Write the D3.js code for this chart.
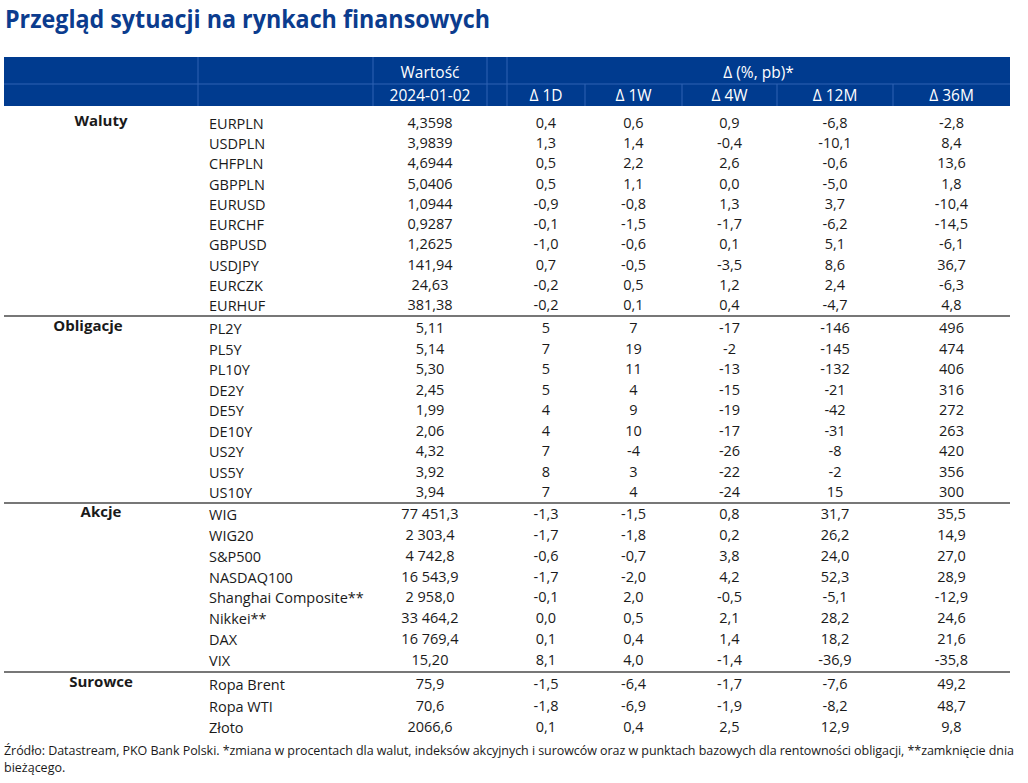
<!DOCTYPE html>
<html>
<head>
<meta charset="utf-8">
<script src="https://cdn.jsdelivr.net/npm/d3@7"></script>
<style>
  html, body { margin: 0; padding: 0; background: #ffffff; }
  svg { display: block; }
  text { font-family: "Open Sans", "Noto Sans", sans-serif; }
</style>
</head>
<body>
<svg id="chart" width="1028" height="783"></svg>
<script>
// ---------------- DATA ----------------
const title = "Przegląd sytuacji na rynkach finansowych";
const valueHeader = "Wartość";
const dateLabel = "2024-01-02";
const deltaHeader = "Δ (%, pb)*";
const deltaColumns = ["Δ 1D", "Δ 1W", "Δ 4W", "Δ 12M", "Δ 36M"];
const sections = ["Waluty", "Obligacje", "Akcje", "Surowce"];

const walutyNames = ["EURPLN", "USDPLN", "CHFPLN", "GBPPLN", "EURUSD", "EURCHF", "GBPUSD", "USDJPY", "EURCZK", "EURHUF"];
const walutyValues = ["4,3598", "3,9839", "4,6944", "5,0406", "1,0944", "0,9287", "1,2625", "141,94", "24,63", "381,38"];
const walutyDeltas = [
  ["0,4", "0,6", "0,9", "-6,8", "-2,8"],
  ["1,3", "1,4", "-0,4", "-10,1", "8,4"],
  ["0,5", "2,2", "2,6", "-0,6", "13,6"],
  ["0,5", "1,1", "0,0", "-5,0", "1,8"],
  ["-0,9", "-0,8", "1,3", "3,7", "-10,4"],
  ["-0,1", "-1,5", "-1,7", "-6,2", "-14,5"],
  ["-1,0", "-0,6", "0,1", "5,1", "-6,1"],
  ["0,7", "-0,5", "-3,5", "8,6", "36,7"],
  ["-0,2", "0,5", "1,2", "2,4", "-6,3"],
  ["-0,2", "0,1", "0,4", "-4,7", "4,8"]
];

const obligacjeNames = ["PL2Y", "PL5Y", "PL10Y", "DE2Y", "DE5Y", "DE10Y", "US2Y", "US5Y", "US10Y"];
const obligacjeValues = ["5,11", "5,14", "5,30", "2,45", "1,99", "2,06", "4,32", "3,92", "3,94"];
const obligacjeDeltas = [
  ["5", "7", "-17", "-146", "496"],
  ["7", "19", "-2", "-145", "474"],
  ["5", "11", "-13", "-132", "406"],
  ["5", "4", "-15", "-21", "316"],
  ["4", "9", "-19", "-42", "272"],
  ["4", "10", "-17", "-31", "263"],
  ["7", "-4", "-26", "-8", "420"],
  ["8", "3", "-22", "-2", "356"],
  ["7", "4", "-24", "15", "300"]
];

const akcjeNames = ["WIG", "WIG20", "S&P500", "NASDAQ100", "Shanghai Composite**", "Nikkei**", "DAX", "VIX"];
const akcjeValues = ["77 451,3", "2 303,4", "4 742,8", "16 543,9", "2 958,0", "33 464,2", "16 769,4", "15,20"];
const akcjeDeltas = [
  ["-1,3", "-1,5", "0,8", "31,7", "35,5"],
  ["-1,7", "-1,8", "0,2", "26,2", "14,9"],
  ["-0,6", "-0,7", "3,8", "24,0", "27,0"],
  ["-1,7", "-2,0", "4,2", "52,3", "28,9"],
  ["-0,1", "2,0", "-0,5", "-5,1", "-12,9"],
  ["0,0", "0,5", "2,1", "28,2", "24,6"],
  ["0,1", "0,4", "1,4", "18,2", "21,6"],
  ["8,1", "4,0", "-1,4", "-36,9", "-35,8"]
];

const surowceNames = ["Ropa Brent", "Ropa WTI", "Złoto"];
const surowceValues = ["75,9", "70,6", "2066,6"];
const surowceDeltas = [
  ["-1,5", "-6,4", "-1,7", "-7,6", "49,2"],
  ["-1,8", "-6,9", "-1,9", "-8,2", "48,7"],
  ["0,1", "0,4", "2,5", "12,9", "9,8"]
];

const footnoteLine1 = "Źródło: Datastream, PKO Bank Polski. *zmiana w procentach dla walut, indeksów akcyjnych i surowców oraz w punktach bazowych dla rentowności obligacji, **zamknięcie dnia";
const footnoteLine2 = "bieżącego.";

// ---------------- LAYOUT ----------------
const svg = d3.select("#chart");
const blue = "#0b3c8e";
const headerBlue = "#003b8f";
const dividerBlue = "#2f62b3";
const left = 4, right = 1010;

// column boundaries
const colEdges = [left, 198, 373, 487, 507, 585, 682, 777, 893, right];
const deltaCenter = d3.scaleOrdinal()
  .domain(deltaColumns)
  .range(deltaColumns.map((d, i) => (colEdges[4 + i] + colEdges[5 + i]) / 2));
const valueX = (colEdges[2] + colEdges[3]) / 2;
const nameX = colEdges[1] + 11;
const sectionX = d3.scaleOrdinal().domain(sections).range([101, 88, 101, 101]);

// Title
svg.append("text")
  .attr("x", 5).attr("y", 28)
  .attr("fill", blue)
  .attr("font-size", 25).attr("font-weight", 700)
  .attr("textLength", 485).attr("lengthAdjust", "spacingAndGlyphs")
  .text(title);

// Header band
const hTop = 57, hMid = 84, hBot = 106;
svg.append("rect").attr("x", left).attr("y", hTop).attr("width", right - left).attr("height", hBot - hTop).attr("fill", headerBlue);
svg.append("line").attr("x1", left).attr("x2", right).attr("y1", hMid).attr("y2", hMid).attr("stroke", dividerBlue).attr("stroke-width", 1);
[198, 373, 487, 507].forEach(x => {
  svg.append("line").attr("x1", x).attr("x2", x).attr("y1", hTop).attr("y2", hBot).attr("stroke", dividerBlue).attr("stroke-width", 1);
});
[585, 682, 777, 893].forEach(x => {
  svg.append("line").attr("x1", x).attr("x2", x).attr("y1", hMid).attr("y2", hBot).attr("stroke", dividerBlue).attr("stroke-width", 1);
});

const hdr = svg.append("g").attr("fill", "#ffffff").attr("font-size", 15.5).attr("text-anchor", "middle");
hdr.append("text").attr("x", valueX).attr("y", 78).text(valueHeader);
hdr.append("text").attr("x", valueX).attr("y", 101).text(dateLabel);
hdr.append("text").attr("x", (colEdges[4] + right) / 2).attr("y", 78).text(deltaHeader);
hdr.selectAll("text.dc").data(deltaColumns).join("text").attr("class", "dc")
  .attr("x", d => deltaCenter(d)).attr("y", 101).text(d => d);

// Sections
const sectionData = [
  { name: sections[0], names: walutyNames, values: walutyValues, deltas: walutyDeltas, y0: 123, y1: 305 },
  { name: sections[1], names: obligacjeNames, values: obligacjeValues, deltas: obligacjeDeltas, y0: 328, y1: 492 },
  { name: sections[2], names: akcjeNames, values: akcjeValues, deltas: akcjeDeltas, y0: 514, y1: 660 },
  { name: sections[3], names: surowceNames, values: surowceValues, deltas: surowceDeltas, y0: 684, y1: 727 }
];
const separators = [316, 503, 672];

const body = svg.append("g").attr("fill", "#1a1a1a").attr("font-size", 14.5);

sectionData.forEach(sec => {
  const y = d3.scaleLinear().domain([0, sec.names.length - 1]).range([sec.y0, sec.y1]);
  const off = 5;
  body.append("text")
    .attr("x", sectionX(sec.name)).attr("y", sec.y0 + off - 2)
    .attr("text-anchor", "middle").attr("font-weight", 700).attr("font-size", 15)
    .text(sec.name);
  const g = body.append("g");
  g.selectAll("text.nm").data(sec.names).join("text").attr("class", "nm")
    .attr("x", nameX).attr("y", (d, i) => y(i) + off + 1).text(d => d);
  g.selectAll("text.vl").data(sec.values).join("text").attr("class", "vl")
    .attr("x", valueX).attr("y", (d, i) => y(i) + off).attr("text-anchor", "middle").text(d => d);
  sec.deltas.forEach((row, i) => {
    g.selectAll(null).data(row).join("text")
      .attr("x", (d, j) => deltaCenter(deltaColumns[j]))
      .attr("y", y(i) + off).attr("text-anchor", "middle").text(d => d);
  });
});

separators.forEach(yy => {
  svg.append("line").attr("x1", left).attr("x2", right).attr("y1", yy).attr("y2", yy)
    .attr("stroke", "#4a4a4a").attr("stroke-width", 1.5);
});

// Footnote
const fn = svg.append("g").attr("fill", "#1a1a1a").attr("font-size", 12.5);
fn.append("text").attr("x", 4).attr("y", 755)
  .attr("textLength", 1010).attr("lengthAdjust", "spacing").text(footnoteLine1);
fn.append("text").attr("x", 4).attr("y", 772).text(footnoteLine2);
</script>
</body>
</html>
